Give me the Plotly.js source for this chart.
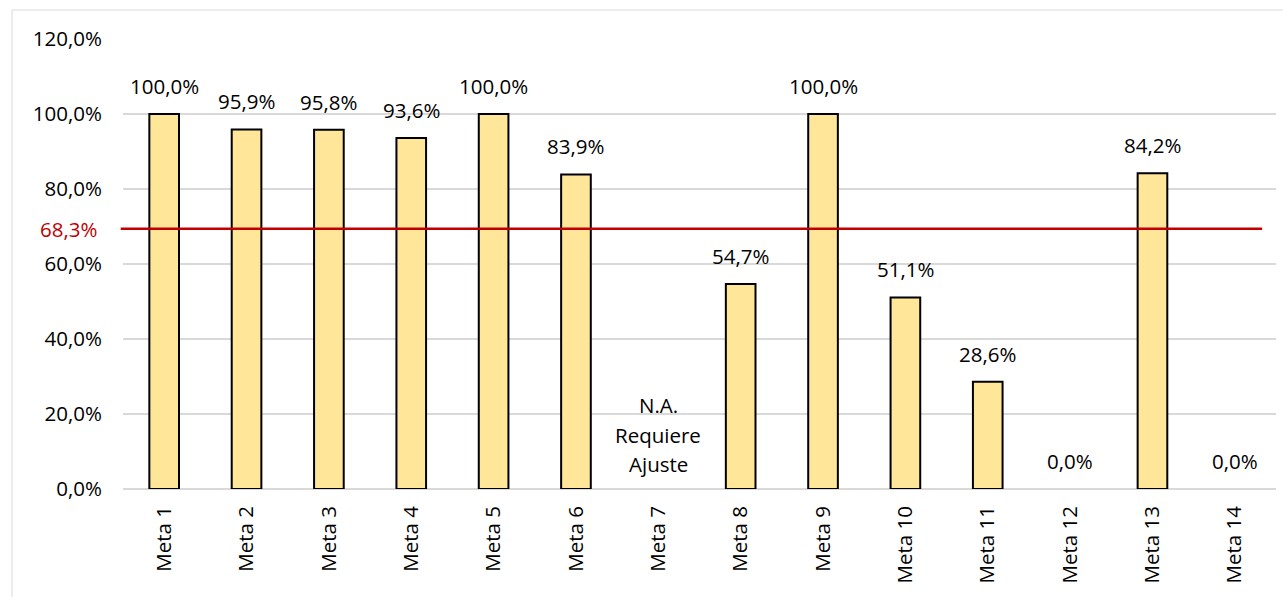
<!DOCTYPE html>
<html>
<head>
<meta charset="utf-8">
<script src="https://cdn.plot.ly/plotly-3.0.1.min.js"></script>
<style>html,body{margin:0;padding:0;background:#fff;}#chart{width:1283px;height:597px;}</style>
</head>
<body>
<div id="chart"></div>
<script>
const categories = ["Meta 1","Meta 2","Meta 3","Meta 4","Meta 5","Meta 6","Meta 7","Meta 8","Meta 9","Meta 10","Meta 11","Meta 12","Meta 13","Meta 14"];
const values = [100.0, 95.9, 95.8, 93.6, 100.0, 83.9, null, 54.7, 100.0, 51.1, 28.6, 0.0, 84.2, 0.0];
const naCategory = "Meta 7";
const naLines = ["N.A.", "Requiere", "Ajuste"];
const naLevel = 14.5;
const thresholdLabel = "68,3%";
const thresholdLine = 69.4;
const yTicks = [0, 20, 40, 60, 80, 100, 120];

const fmt = v => v.toFixed(1).replace('.', ',') + '%';
const FONT = "Open Sans, Liberation Sans, sans-serif";
const FS = 20.5;

const trace = {
  type: 'bar',
  x: categories,
  y: values,
  width: 0.36,
  marker: {color: '#FFE699', line: {color: '#000000', width: values.map(v => v ? 2 : 0)}},
  hoverinfo: 'skip'
};

const annotations = [];
categories.forEach((c, i) => {
  if (values[i] === null) return;
  annotations.push({
    x: c, y: values[i], xref: 'x', yref: 'y',
    text: fmt(values[i]), showarrow: false,
    yanchor: 'bottom', yshift: 12,
    font: {family: FONT, size: FS, color: '#000'}
  });
});
naLines.forEach((t, k) => {
  annotations.push({
    x: naCategory, y: naLevel, xref: 'x', yref: 'y',
    text: t, showarrow: false, yanchor: 'middle',
    yshift: (1 - k) * 29.5,
    font: {family: FONT, size: FS, color: '#000'}
  });
});
annotations.push({
  x: 0, xref: 'paper', y: thresholdLine, yref: 'y',
  text: thresholdLabel, showarrow: false, xanchor: 'right', xshift: -24,
  font: {family: FONT, size: FS, color: '#C00000'}
});

const layout = {
  width: 1283, height: 597,
  margin: {l: 123, r: 7, t: 39, b: 108},
  paper_bgcolor: '#fff', plot_bgcolor: '#fff',
  showlegend: false,
  xaxis: {
    type: 'category',
    tickangle: -90,
    tickfont: {family: FONT, size: FS, color: '#000'},
    ticks: '', showline: false, showgrid: false,
    ticklabelstandoff: 12,
    fixedrange: true
  },
  yaxis: {
    range: [0, 120],
    tickvals: yTicks,
    ticktext: yTicks.map(fmt),
    tickfont: {family: FONT, size: FS, color: '#000'},
    showgrid: true, gridcolor: '#D9D9D9', gridwidth: 1.5,
    zeroline: true, zerolinecolor: '#D9D9D9', zerolinewidth: 1.5,
    ticks: '', showline: false,
    ticklabelstandoff: 20,
    fixedrange: true
  },
  shapes: [
    {type: 'rect', xref: 'paper', yref: 'paper', x0: -0.0963, x1: 1.2, y0: -0.5, y1: 1.0644,
     line: {color: '#D9D9D9', width: 1}, fillcolor: 'rgba(0,0,0,0)', layer: 'below'},
    {type: 'line', xref: 'paper', yref: 'y', x0: -0.002, x1: 0.988, y0: thresholdLine, y1: thresholdLine,
     line: {color: '#C00000', width: 2.5}, layer: 'above'}
  ],
  annotations: annotations
};

Plotly.newPlot('chart', [trace], layout, {displayModeBar: false, staticPlot: true});
</script>
</body>
</html>
